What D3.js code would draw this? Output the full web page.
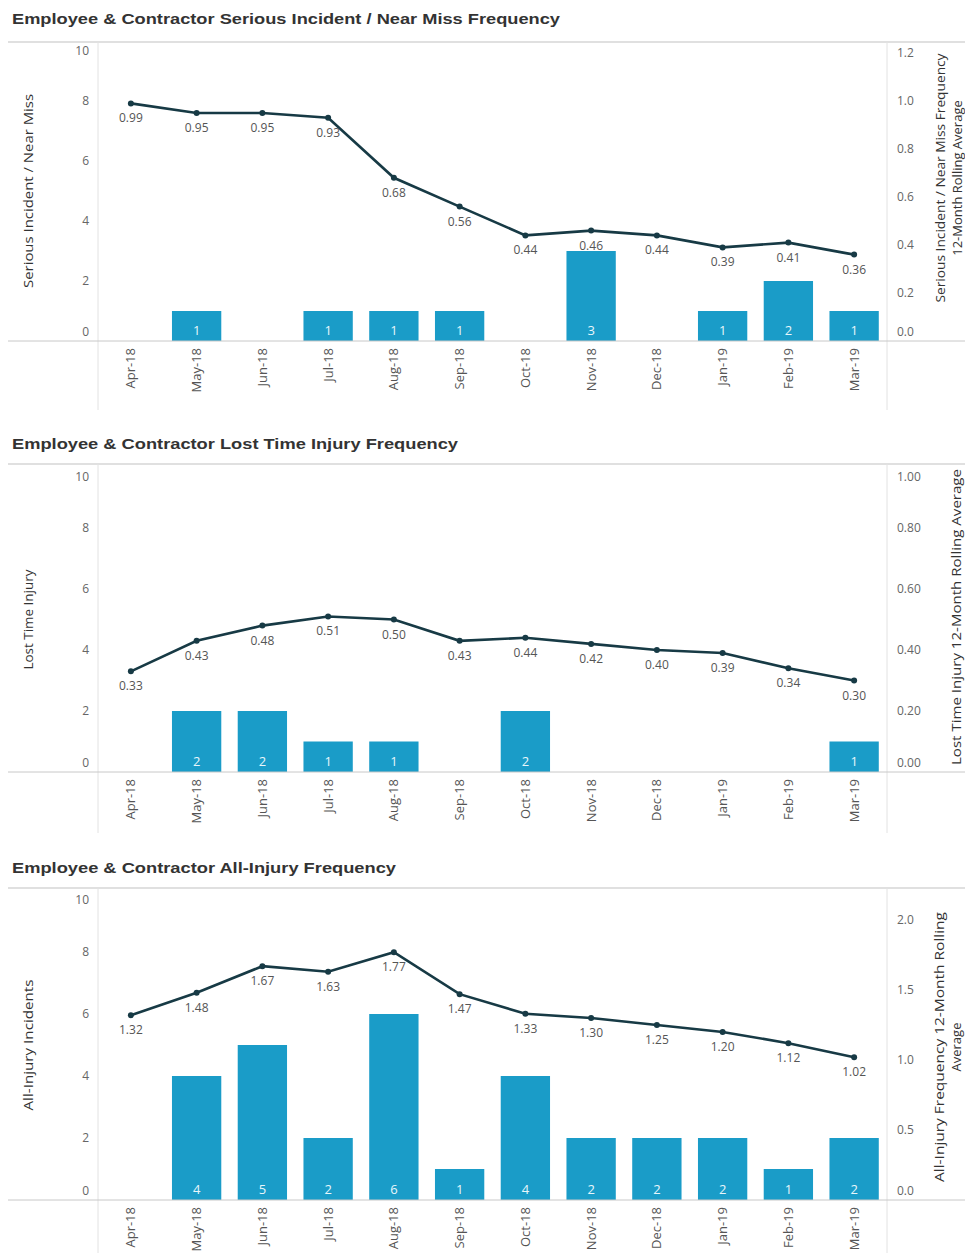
<!DOCTYPE html>
<html>
<head>
<meta charset="utf-8">
<script src="https://cdn.jsdelivr.net/npm/d3@7"></script>
<style>
  html, body { margin: 0; padding: 0; background: #fff; }
  svg { display: block; }
  text { font-family: "Open Sans", "DejaVu Sans", sans-serif; }
</style>
</head>
<body>
<svg id="chart" width="965" height="1253"></svg>
<script>
// ---------- DATA ----------
const months = ["Apr-18","May-18","Jun-18","Jul-18","Aug-18","Sep-18","Oct-18","Nov-18","Dec-18","Jan-19","Feb-19","Mar-19"];

const seriousCounts = [0,1,0,1,1,1,0,3,0,1,2,1];
const seriousFreq   = [0.99,0.95,0.95,0.93,0.68,0.56,0.44,0.46,0.44,0.39,0.41,0.36];

const ltiCounts = [0,2,2,1,1,0,2,0,0,0,0,1];
const ltiFreq   = [0.33,0.43,0.48,0.51,0.50,0.43,0.44,0.42,0.40,0.39,0.34,0.30];

const allCounts = [0,4,5,2,6,1,4,2,2,2,1,2];
const allFreq   = [1.32,1.48,1.67,1.63,1.77,1.47,1.33,1.30,1.25,1.20,1.12,1.02];

const leftTicks = [0,2,4,6,8,10];
const seriousRightTicks = [0,0.2,0.4,0.6,0.8,1.0,1.2];
const ltiRightTicks = [0,0.2,0.4,0.6,0.8,1.0];
const allRightTicks = [0,0.5,1.0,1.5,2.0];

const titles = [
  "Employee & Contractor Serious Incident / Near Miss Frequency",
  "Employee & Contractor Lost Time Injury Frequency",
  "Employee & Contractor All-Injury Frequency"
];
const leftTitles = ["Serious Incident / Near Miss", "Lost Time Injury", "All-Injury Incidents"];
const rightTitles = [
  ["Serious Incident / Near Miss Frequency", "12-Month Rolling Average"],
  ["Lost Time Injury 12-Month Rolling Average"],
  ["All-Injury Frequency 12-Month Rolling", "Average"]
];

// ---------- STYLE / LAYOUT ----------
const BAR = "#1a9cc8";
const LINE = "#173a45";
const svg = d3.select("#chart");
const plotLeft = 98, plotRight = 887;

const panels = [
  { counts: seriousCounts, freq: seriousFreq, rTicks: seriousRightTicks, rMax: 1.25, rFmt: d3.format(".1f"),
    titleY: 24, titleW: 548, sepY: 42, y0: 341, yTop: 41, axisBottom: 410,
    title: titles[0], lt: leftTitles[0], ltW: 194, rt: rightTitles[0], rtX: [945, 962], rtW: [249, null], rtCy: 178 },
  { counts: ltiCounts, freq: ltiFreq, rTicks: ltiRightTicks, rMax: 1.0, rFmt: d3.format(".2f"),
    titleY: 449, titleW: 446, sepY: 464, y0: 772, yTop: 467, axisBottom: 833,
    title: titles[1], lt: leftTitles[1], ltW: 100, rt: rightTitles[1], rtX: [961], rtW: [296], rtCy: 617 },
  { counts: allCounts, freq: allFreq, rTicks: allRightTicks, rMax: 2.214, rFmt: d3.format(".1f"),
    titleY: 873, titleW: 384, sepY: 888, y0: 1200, yTop: 890, axisBottom: 1253,
    title: titles[2], lt: leftTitles[2], ltW: 131, rt: rightTitles[2], rtX: [944, 961], rtW: [270, null], rtCy: 1047 }
];

const x = d3.scaleBand().domain(months).range([plotLeft, plotRight]).paddingInner(0.25).paddingOuter(0.125);

panels.forEach(p => {
  const g = svg.append("g");
  const yL = d3.scaleLinear().domain([0, 10]).range([p.y0, p.yTop]);
  const yR = d3.scaleLinear().domain([0, p.rMax]).range([p.y0, p.yTop]);

  // title
  g.append("text").attr("x", 12).attr("y", p.titleY)
    .style("font-family", "'Liberation Sans', Arial, sans-serif")
    .style("font-weight", "bold").style("font-size", "15.5px").attr("fill", "#333")
    .attr("textLength", p.titleW).attr("lengthAdjust", "spacingAndGlyphs")
    .text(p.title);

  // separator & frame lines
  g.append("line").attr("x1", 8).attr("x2", 965).attr("y1", p.sepY).attr("y2", p.sepY)
    .attr("stroke", "#e0e0e0").attr("stroke-width", 2);
  g.append("line").attr("x1", plotLeft).attr("x2", plotLeft).attr("y1", p.sepY).attr("y2", p.axisBottom)
    .attr("stroke", "#e2e2e2");
  g.append("line").attr("x1", plotRight).attr("x2", plotRight).attr("y1", p.sepY).attr("y2", p.axisBottom)
    .attr("stroke", "#e2e2e2");

  // bars
  g.selectAll("rect.bar").data(months).enter().append("rect").attr("class", "bar")
    .attr("x", d => x(d))
    .attr("width", x.bandwidth())
    .attr("y", (d, i) => yL(p.counts[i]))
    .attr("height", (d, i) => p.y0 - yL(p.counts[i]))
    .attr("fill", BAR);

  // bar labels
  g.selectAll("text.blab").data(months.filter((d, i) => p.counts[i] > 0)).enter().append("text")
    .attr("x", d => x(d) + x.bandwidth() / 2)
    .attr("y", p.y0 - 6)
    .attr("text-anchor", "middle").attr("fill", "#e8f6fb").style("font-size", "13px")
    .text(d => p.counts[months.indexOf(d)]);

  // zero line
  g.append("line").attr("x1", 8).attr("x2", 965).attr("y1", p.y0).attr("y2", p.y0)
    .attr("stroke", "#c8c8c8");

  // left axis
  const la = g.append("g").attr("transform", `translate(${plotLeft},0)`)
    .call(d3.axisLeft(yL).tickValues(leftTicks).tickSize(0).tickPadding(9));
  la.select(".domain").remove();
  la.selectAll("text").style("font-size", "12px").attr("fill", "#666")
    .style("font-family", "'Open Sans', sans-serif");
  la.selectAll(".tick").each(function(d) {
    const yy = yL(d);
    if (yy > p.y0 - 8) d3.select(this).select("text").attr("dy", "-0.45em");
    if (yy < p.yTop + 8) d3.select(this).select("text").attr("dy", "1.1em");
  });

  // right axis
  const ra = g.append("g").attr("transform", `translate(${plotRight},0)`)
    .call(d3.axisRight(yR).tickValues(p.rTicks).tickSize(0).tickPadding(10).tickFormat(p.rFmt));
  ra.select(".domain").remove();
  ra.selectAll("text").style("font-size", "12px").attr("fill", "#666")
    .style("font-family", "'Open Sans', sans-serif");
  ra.selectAll(".tick").each(function(d) {
    const yy = yR(d);
    if (yy > p.y0 - 8) d3.select(this).select("text").attr("dy", "-0.45em");
    if (yy < p.yTop + 8) d3.select(this).select("text").attr("dy", "1.1em");
  });

  // x axis labels (rotated)
  const xa = g.append("g").attr("transform", `translate(0,${p.y0})`)
    .call(d3.axisBottom(x).tickSize(0).tickPadding(0));
  xa.select(".domain").remove();
  xa.selectAll("text")
    .attr("transform", "rotate(-90)")
    .attr("text-anchor", "end")
    .attr("x", -7).attr("y", 0).attr("dy", "0.35em")
    .style("font-size", "13px").attr("fill", "#555")
    .style("font-family", "'Open Sans', sans-serif");

  // line
  const line = d3.line().x((d, i) => x(months[i]) + x.bandwidth() / 2).y(d => yR(d));
  g.append("path").datum(p.freq).attr("d", line)
    .attr("fill", "none").attr("stroke", LINE).attr("stroke-width", 2.6);
  g.selectAll("circle.pt").data(p.freq).enter().append("circle")
    .attr("cx", (d, i) => x(months[i]) + x.bandwidth() / 2)
    .attr("cy", d => yR(d)).attr("r", 3).attr("fill", LINE);
  g.selectAll("text.vlab").data(p.freq).enter().append("text")
    .attr("x", (d, i) => x(months[i]) + x.bandwidth() / 2)
    .attr("y", d => yR(d) + 19)
    .attr("text-anchor", "middle").style("font-size", "12px").attr("fill", "#555")
    .text(d => d3.format(".2f")(d));

  // left axis title
  const cy = (p.y0 + p.yTop) / 2;
  g.append("text").attr("transform", `translate(33,${cy}) rotate(-90)`)
    .attr("text-anchor", "middle").style("font-size", "13px").attr("fill", "#333")
    .attr("textLength", p.ltW).attr("lengthAdjust", "spacingAndGlyphs")
    .text(p.lt);

  // right axis title
  p.rt.forEach((t, k) => {
    const tt = g.append("text").attr("transform", `translate(${p.rtX[k]},${p.rtCy}) rotate(-90)`)
      .attr("text-anchor", "middle").style("font-size", "13px").attr("fill", "#333")
      .text(t);
    if (p.rtW[k]) tt.attr("textLength", p.rtW[k]).attr("lengthAdjust", "spacingAndGlyphs");
  });
});
</script>
</body>
</html>
